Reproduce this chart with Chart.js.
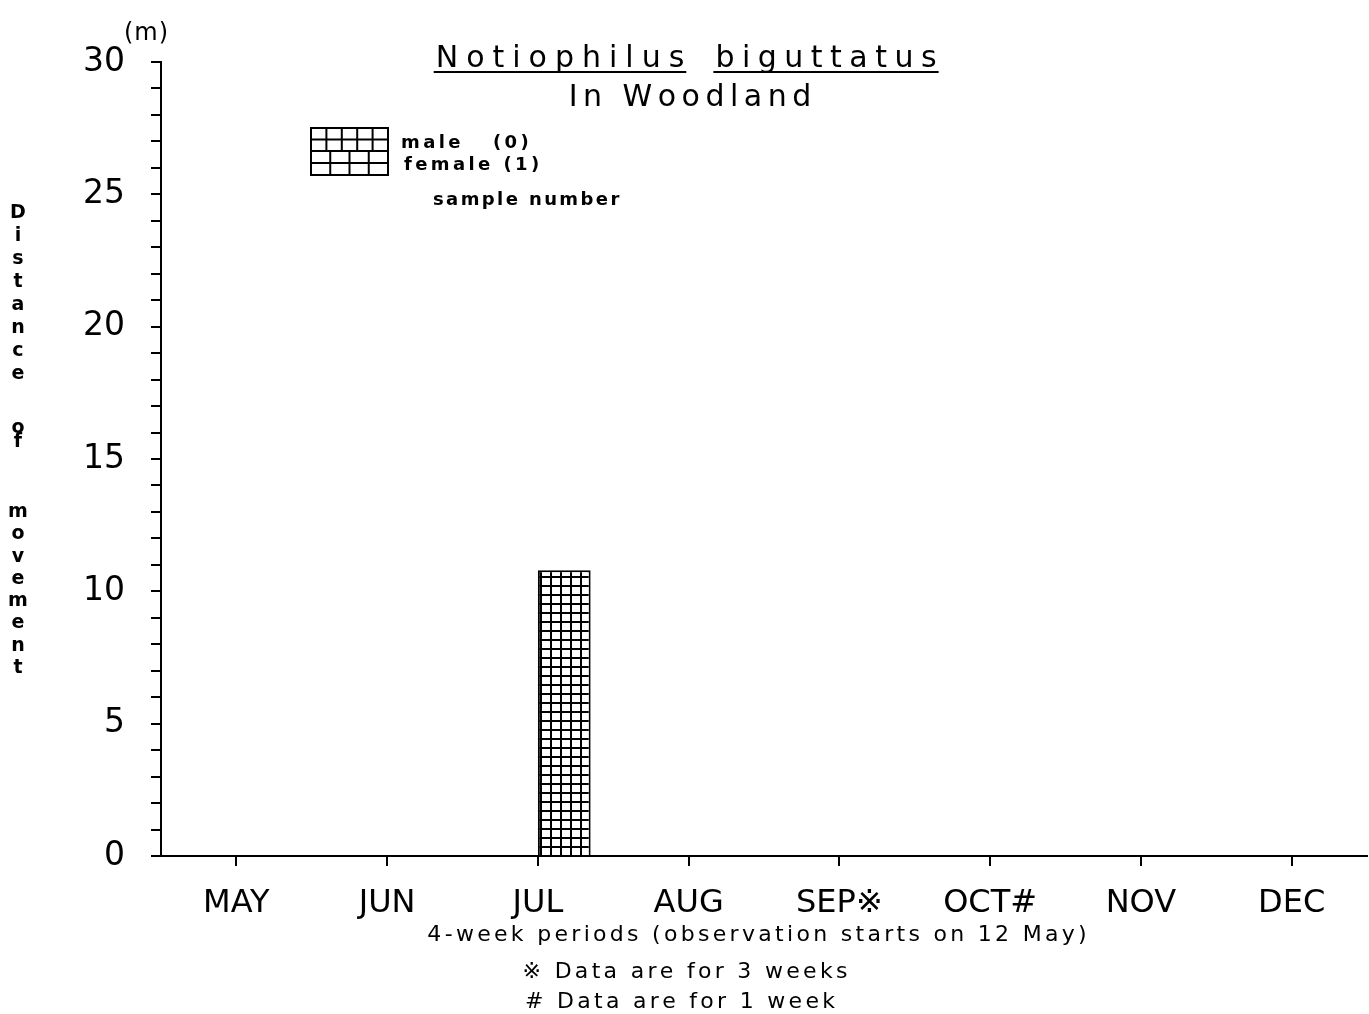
<!DOCTYPE html>
<html><head><meta charset="utf-8">
<script src="https://cdn.jsdelivr.net/npm/chart.js@4.4.0/dist/chart.umd.min.js"></script>
<style>html,body{margin:0;padding:0;background:#fff}</style>
</head><body>
<canvas id="c" width="1369" height="1014"></canvas>
<script>
// data
const months = ['MAY','JUN','JUL','AUG','SEP\u203B','OCT#','NOV','DEC'];
const maleDist = [0,0,0,0,0,0,0,0];
const femaleDist = [0,0,10.8,0,0,0,0,0];
const sampleN = [0, 1]; // male, female
const yMax = 30, yMajor = 5;

const FONT = '"DejaVu Sans", "Noto Sans CJK SC", sans-serif';
const canvas = document.getElementById('c');
const ctx = canvas.getContext('2d');

function gridPattern(w, h){
  const c = document.createElement('canvas'); c.width = w; c.height = h;
  const g = c.getContext('2d');
  g.fillStyle = '#fff'; g.fillRect(0,0,w,h);
  g.fillStyle = '#000'; g.fillRect(0,0,w,2); g.fillRect(0,0,2,h);
  return ctx.createPattern(c, 'repeat');
}

// draw text char by char with extra spacing, returns [left, width]
function spaced(c, str, x, y, sp, align){
  let w = 0;
  for(const ch of str) w += c.measureText(ch).width + sp;
  w -= sp;
  let cx = align==='center' ? x - w/2 : (align==='right' ? x - w : x);
  const x0 = cx;
  c.textAlign = 'left';
  for(const ch of str){ c.fillText(ch, cx, y); cx += c.measureText(ch).width + sp; }
  return [x0, w];
}

function legendBox(c, x, y, w, h, cols, rows){
  c.strokeStyle = '#000'; c.lineWidth = 2;
  c.strokeRect(x, y, w, h);
  c.beginPath();
  for(let i=1;i<cols;i++){ c.moveTo(x + w*i/cols, y); c.lineTo(x + w*i/cols, y+h); }
  for(let j=1;j<rows;j++){ c.moveTo(x, y + h*j/rows); c.lineTo(x+w, y + h*j/rows); }
  c.stroke();
}

const extras = {
  id: 'extras',
  afterDraw(chart){
    const c = chart.ctx;
    c.save();
    c.fillStyle = '#000'; c.textBaseline = 'alphabetic';
    // title
    c.font = '30px ' + FONT;
    const [ax, aw] = spaced(c, 'Notiophilus', 560, 67, 8, 'center');
    const [bx, bw] = spaced(c, 'biguttatus', 826, 67, 7.5, 'center');
    c.lineWidth = 2; c.strokeStyle = '#000';
    c.beginPath(); c.moveTo(ax-2, 72); c.lineTo(ax+aw+2, 72); c.moveTo(bx-2, 72); c.lineTo(bx+bw+2, 72); c.stroke();
    spaced(c, 'In Woodland', 690, 106, 5.5, 'center');
    // unit
    c.font = '24px ' + FONT;
    spaced(c, '(m)', 146, 40, 1, 'center');
    // legend
    legendBox(c, 311, 128, 77, 23, 5, 2);
    legendBox(c, 311, 151, 77, 24, 4, 2);
    c.font = 'bold 18px ' + FONT;
    spaced(c, 'male   (' + sampleN[0] + ')', 401, 148, 3.4, 'left');
    spaced(c, 'female (' + sampleN[1] + ')', 404, 170, 3.4, 'left');
    spaced(c, 'sample number', 433, 205, 2.4, 'left');
    // vertical y label
    c.font = 'bold 19px ' + FONT; c.textAlign = 'center'; c.textBaseline = 'middle';
    const words = [['Distance', 213, 23], ['of', 428, 14], ['movement', 512, 22.3]];
    words.forEach(([w, y0, st]) => { [...w].forEach((ch, i) => c.fillText(ch, 18, y0 + i*st)); });
    // footnotes
    c.textBaseline = 'alphabetic';
    c.font = '22px ' + FONT;
    spaced(c, '4-week periods (observation starts on 12 May)', 757, 941, 3.3, 'center');
    spaced(c, '\u203B Data are for 3 weeks', 685, 978, 3.3, 'center');
    spaced(c, '# Data are for 1 week', 680, 1008, 3.3, 'center');
    c.restore();
  }
};

new Chart(ctx, {
  type: 'bar',
  data: {
    labels: months,
    datasets: [
      { label: 'male', data: maleDist, backgroundColor: gridPattern(8, 8), borderColor: '#000', borderWidth: 2 },
      { label: 'female', data: femaleDist, backgroundColor: gridPattern(10, 9), borderColor: '#000', borderWidth: 2 }
    ]
  },
  options: {
    responsive: false, animation: false, devicePixelRatio: 1,
    layout: { padding: { top: 62, right: 2, left: 0, bottom: 0 } },
    datasets: { bar: { barPercentage: 1, categoryPercentage: 0.7 } },
    plugins: { legend: { display: false }, tooltip: { enabled: false }, title: { display: false } },
    scales: {
      x: {
        afterFit(s){ s.height = 158; },
        grid: { offset: false, drawOnChartArea: false, tickLength: 10, color: '#000', lineWidth: 2 },
        border: { color: '#000', width: 2 },
        ticks: { color: '#000', font: { family: FONT, size: 32 }, padding: 18, maxRotation: 0, autoSkip: false }
      },
      y: {
        min: 0, max: yMax,
        afterFit(s){ s.width = 161; },
        grid: { drawOnChartArea: false, tickLength: 10, color: '#000', lineWidth: 2 },
        border: { color: '#000', width: 2 },
        ticks: { stepSize: 1, autoSkip: false, color: '#000', font: { family: FONT, size: 33 }, padding: 26,
                 callback: v => (v % yMajor === 0 ? v : '') }
      }
    }
  },
  plugins: [extras]
});
</script>
</body></html>
